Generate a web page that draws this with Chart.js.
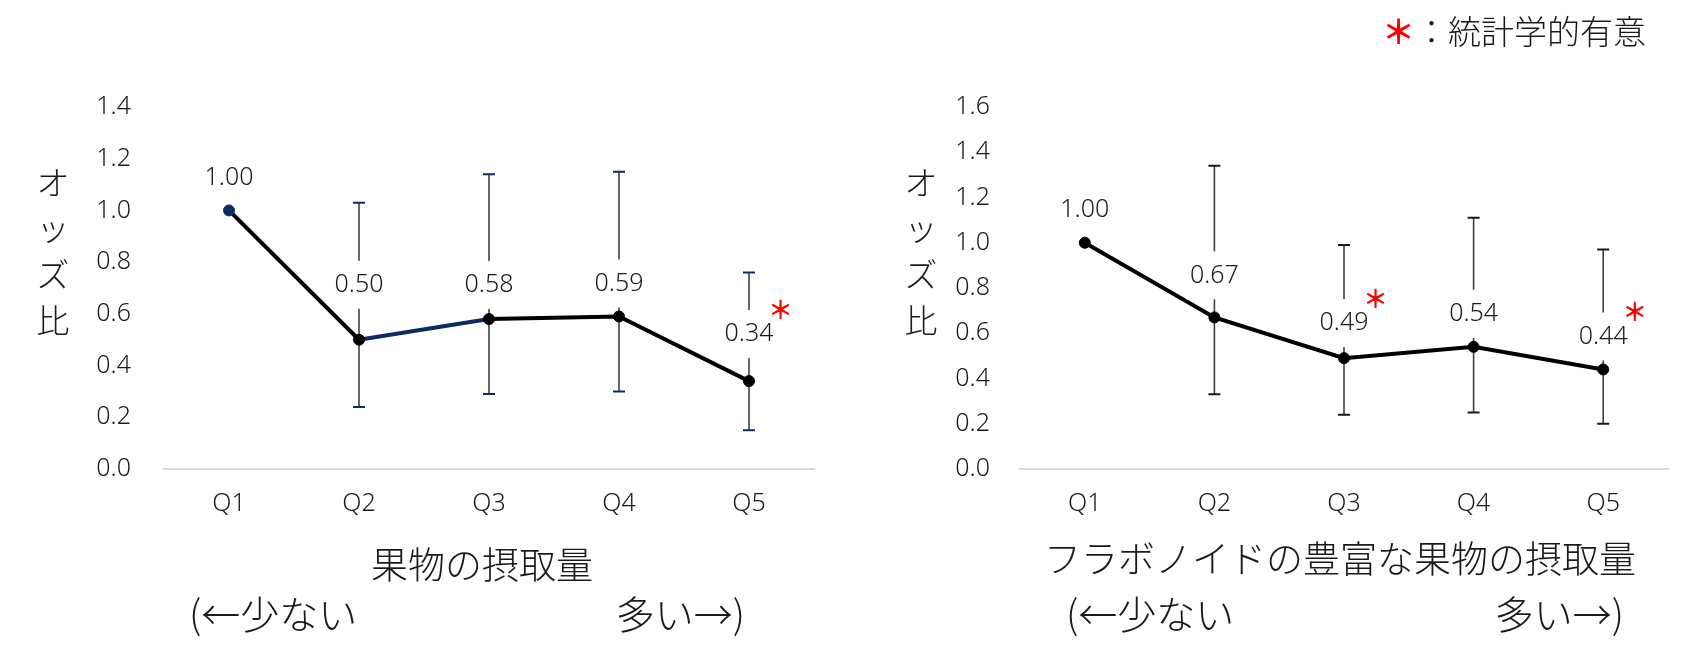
<!DOCTYPE html>
<html lang="ja">
<head>
<meta charset="utf-8">
<script src="https://cdn.jsdelivr.net/npm/chart.js@4.4.1/dist/chart.umd.min.js"></script>
<style>
  html, body { margin: 0; padding: 0; background: #fff; }
  body { width: 1700px; height: 661px; position: relative; overflow: hidden;
         font-family: "Noto Sans CJK JP", "Noto Sans", sans-serif; color: #1a1a1a; font-weight: 300; }
  .box { position: absolute; top: 0; width: 850px; height: 661px; }
  .txt { position: absolute; white-space: nowrap; }
  .ytitle { font-size: 33px; line-height: 46px; width: 60px; text-align: center; top: 158px; }
  .xtitle { font-size: 37px; line-height: 44px; text-align: center; }
  .note { font-size: 39px; line-height: 46px; top: 589px; }
  .legend { font-size: 33px; line-height: 40px; top: 10px; right: 54px; }
  .legend span { color: #ff0000; font-weight: 700; }
</style>
</head>
<body>
<div class="box" style="left:0"><canvas id="chartFruit" width="850" height="661"></canvas></div>
<div class="box" style="left:850px"><canvas id="chartFlav" width="850" height="661"></canvas></div>

<div class="txt legend"><span>＊</span>：統計学的有意</div>

<div class="txt ytitle" style="left:23px">オ<br>ッ<br>ズ<br>比</div>
<div class="txt ytitle" style="left:891px">オ<br>ッ<br>ズ<br>比</div>

<div class="txt xtitle" style="left:282px;width:400px;top:541px">果物の摂取量</div>
<div class="txt xtitle" style="left:1040px;width:600px;top:535px">フラボノイドの豊富な果物の摂取量</div>

<div class="txt note" style="left:189px">(←少ない</div>
<div class="txt note" style="right:955px">多い→)</div>
<div class="txt note" style="left:1066px">(←少ない</div>
<div class="txt note" style="right:76px">多い→)</div>

<script>
// 五分位（Q1が基準）
const categories = ['Q1', 'Q2', 'Q3', 'Q4', 'Q5'];

// 果物の摂取量
const fruitOdds = [1.00, 0.50, 0.58, 0.59, 0.34];
const fruitLow  = [null, 0.24, 0.29, 0.30, 0.15];
const fruitHigh = [null, 1.03, 1.14, 1.15, 0.76];
const fruitSig  = [false, false, false, false, true];
const fruitMax  = 1.4;

// フラボノイドの豊富な果物の摂取量
const flavOdds = [1.00, 0.67, 0.49, 0.54, 0.44];
const flavLow  = [null, 0.33, 0.24, 0.25, 0.20];
const flavHigh = [null, 1.34, 0.99, 1.11, 0.97];
const flavSig  = [false, false, true, false, true];
const flavMax  = 1.6;

const NAVY = '#0d2b63';
const numFont = '"Noto Sans", sans-serif';

// エラーバー・数値ラベル・有意マーク
function extrasPlugin(low, high, sig, capColor, lift) {
  return {
    id: 'extras',
    beforeDatasetsDraw(chart) {
      const ctx = chart.ctx;
      const y = chart.scales.y;
      const pts = chart.getDatasetMeta(0).data;
      ctx.save();
      pts.forEach((p, i) => {
        if (low[i] == null) return;
        const yh = y.getPixelForValue(high[i]);
        const yl = y.getPixelForValue(low[i]);
        ctx.strokeStyle = '#404040';
        ctx.lineWidth = 1.6;
        ctx.beginPath();
        ctx.moveTo(p.x, yh);
        ctx.lineTo(p.x, yl);
        ctx.stroke();
        ctx.strokeStyle = capColor;
        ctx.lineWidth = 2;
        ctx.beginPath();
        ctx.moveTo(p.x - 6, yh); ctx.lineTo(p.x + 6, yh);
        ctx.moveTo(p.x - 6, yl); ctx.lineTo(p.x + 6, yl);
        ctx.stroke();
      });
      ctx.restore();
    },
    afterDatasetsDraw(chart) {
      const ctx = chart.ctx;
      const ds = chart.data.datasets[0].data;
      const pts = chart.getDatasetMeta(0).data;
      ctx.save();
      ctx.textAlign = 'center';
      ctx.textBaseline = 'middle';
      pts.forEach((p, i) => {
        const txt = ds[i].toFixed(2);
        const cy = p.y - lift[i];
        ctx.font = '300 25px ' + numFont;
        const w = ctx.measureText(txt).width;
        ctx.fillStyle = '#fff';
        ctx.fillRect(p.x - w / 2 - 4, cy - 24, w + 8, 48);
        ctx.fillStyle = '#1a1a1a';
        ctx.fillText(txt, p.x, cy);
        if (sig[i]) {
          ctx.fillStyle = '#ff0000';
          ctx.font = 'bold 25px "Noto Sans CJK JP"';
          ctx.fillText('＊', p.x + w / 2 + 7, cy - 25);
        }
      });
      ctx.restore();
    }
  };
}

function makeChart(id, odds, low, high, sig, max, opts) {
  return new Chart(document.getElementById(id), {
    type: 'line',
    data: {
      labels: categories,
      datasets: [{
        data: odds,
        borderColor: '#000',
        borderWidth: 4,
        pointRadius: 5.5,
        pointHoverRadius: 5.5,
        pointBackgroundColor: opts.pointColors,
        pointBorderColor: opts.pointColors,
        pointBorderWidth: 1,
        tension: 0,
        segment: { borderColor: c => opts.segColor(c.p0DataIndex) }
      }]
    },
    options: {
      responsive: false,
      animation: false,
      events: [],
      layout: { padding: { left: 0, right: opts.padRight, top: 107, bottom: 132 } },
      plugins: { legend: { display: false }, tooltip: { enabled: false } },
      scales: {
        x: {
          offset: true,
          grid: { display: false, drawTicks: false },
          border: { display: true, color: '#d9d9d9', width: 2 },
          ticks: { color: '#1a1a1a', font: { family: numFont, size: 25, weight: 300 }, padding: 20 },
          afterFit: s => { s.height = 60; }
        },
        y: {
          min: 0, max: max,
          grid: { display: false, drawTicks: false },
          border: { display: false },
          ticks: { stepSize: 0.2, color: '#1a1a1a', padding: opts.tickPad,
                   font: { family: numFont, size: 25, weight: 300 },
                   callback: v => v.toFixed(1) },
          afterFit: s => { s.width = opts.yWidth; }
        }
      }
    },
    plugins: [extrasPlugin(low, high, sig, opts.capColor, opts.lift)]
  });
}

makeChart('chartFruit', fruitOdds, fruitLow, fruitHigh, fruitSig, fruitMax, {
  pointColors: [NAVY, '#000', '#000', '#000', '#000'],
  segColor: i => (i === 1 ? NAVY : '#000'),
  capColor: NAVY,
  lift: [33, 55, 34, 33, 47],
  padRight: 36, yWidth: 164, tickPad: 33
});

makeChart('chartFlav', flavOdds, flavLow, flavHigh, flavSig, flavMax, {
  pointColors: '#000',
  segColor: () => '#000',
  capColor: '#1a1a1a',
  lift: [33, 42, 35, 33, 33],
  padRight: 32, yWidth: 170, tickPad: 30
});
</script>
</body>
</html>
